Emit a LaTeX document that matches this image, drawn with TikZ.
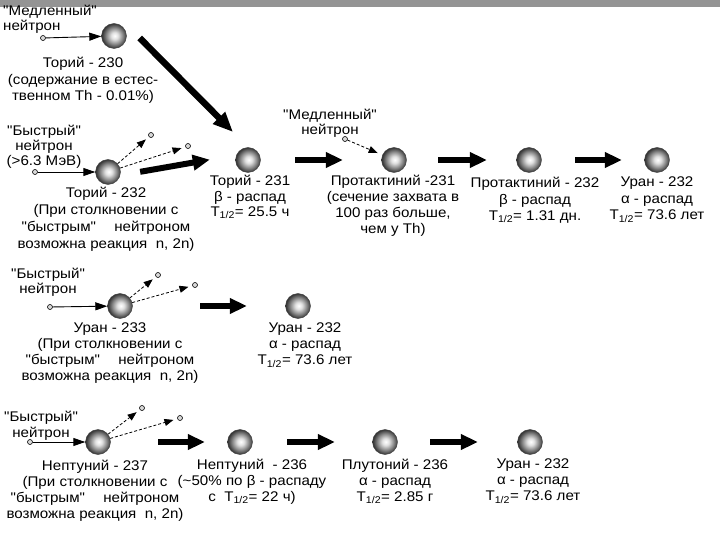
\documentclass[tikz,border=0pt]{standalone}
\usepackage{fontspec}
\newfontfamily\mainf[FakeStretch=1.08]{Liberation Sans}
\usetikzlibrary{arrows.meta}
\pgfdeclareradialshading{sphere}{\pgfpoint{1.5bp}{0.5bp}}{color(0bp)=(white); color(7bp)=(black!12); color(16bp)=(black!45); color(25bp)=(black!80); color(50bp)=(black!80)}
\tikzset{
  ball/.style={circle, minimum size=25pt, inner sep=0pt, shading=sphere, draw=black!75, line width=0.4pt},
  neut/.style={circle, minimum size=5pt, inner sep=0pt, draw=black, fill=black!15, line width=0.6pt},
  lbl/.style={anchor=north, align=center, inner sep=0pt},
  fat/.style={line width=6pt, -{Triangle[length=17pt,width=15pt]}},
  inarr/.style={line width=0.9pt, -{Triangle[length=12pt,width=8pt]}},
  outarr/.style={line width=0.8pt, densely dashed, -{Triangle[length=9pt,width=7pt]}, shorten >=4pt},
  tight/.style={font=\mainf\fontsize{14}{15}\selectfont},
  sp16/.style={font=\mainf\fontsize{14}{16}\selectfont},
}
\newcommand{\thalf}{T\textsubscript{1/2}}
\begin{document}
\begin{tikzpicture}[x=1pt, y=-1pt, font=\mainf\fontsize{14}{16.5}\selectfont]
\useasboundingbox (0,0) rectangle (720,540);
\fill[black!42] (0,0) rectangle (720,7);

% ---------- row 0 ----------
\node[lbl, tight, anchor=north west, align=left] (slow0) at (3,5) {"Медленный"\\нейтрон};
\node[neut] (nd0) at (43,38) {};
\node[ball] (th230) at (114,36) {};
\node[lbl] (lth230) at (83,57) {Торий - 230\\(содержание в естес-\\твенном Th - 0.01\%)};

% ---------- row 1 ----------
\node[lbl, tight] (fast1) at (44,125) {"Быстрый"\\нейтрон\\(>6.3 МэВ)};
\node[neut] (nd1) at (35,172) {};
\node[ball] (th232) at (108,172) {};
\node[neut] (d1a) at (151,135) {};
\node[neut] (d1b) at (188,146) {};
\node[lbl, font=\mainf\fontsize{14}{17}\selectfont] (lth232) at (106,187) {Торий - 232\\(При столкновении с\\"быстрым"\hspace{1.3em}нейтроном\\возможна реакция\ \ n, 2n)};

\node[ball] (th231) at (248,160) {};
\node[lbl, font=\mainf\fontsize{14}{15.5}\selectfont] (lth231) at (250,175) {Торий - 231\\β - распад\\\thalf= 25.5 ч};

\node[lbl, tight] (slow1) at (330,109) {"Медленный"\\нейтрон};
\node[neut] (nd1s) at (345,139) {};
\node[ball] (pa231) at (394,160) {};
\node[lbl, sp16] (lpa231) at (393,175) {Протактиний -231\\(сечение захвата в\\100 раз больше,\\чем у Th)};

\node[ball] (pa232) at (529,160) {};
\node[lbl] (lpa232) at (535,177) {Протактиний - 232\\β - распад\\\thalf= 1.31 дн.};

\node[ball] (u232a) at (657,160) {};
\node[lbl] (lu232a) at (657,177) {Уран - 232\\α - распад\\\thalf= 73.6 лет};

% ---------- row 2 ----------
\node[lbl, tight] (fast2) at (48,268) {"Быстрый"\\нейтрон};
\node[neut] (nd2) at (50,307) {};
\node[ball] (u233) at (120,306) {};
\node[neut] (d2a) at (158,275) {};
\node[neut] (d2b) at (195,285) {};
\node[lbl, sp16] (lu233) at (110,323) {Уран - 233\\(При столкновении с\\"быстрым"\hspace{1.3em}нейтроном\\возможна реакция\ \ n, 2n)};

\node[ball] (u232b) at (298,306) {};
\node[lbl, sp16] (lu232b) at (305,323) {Уран - 232\\α - распад\\\thalf= 73.6 лет};

% ---------- row 3 ----------
\node[lbl, sp16] (fast3) at (41,411) {"Быстрый"\\нейтрон};
\node[neut] (nd3) at (30,442) {};
\node[ball] (np237) at (98,442) {};
\node[neut] (d3a) at (142,408) {};
\node[neut] (d3b) at (180,418) {};
\node[lbl, sp16] (lnp237) at (95,460) {Нептуний - 237\\(При столкновении с\\"быстрым"\hspace{1.3em}нейтроном\\возможна реакция\ \ n, 2n)};

\node[ball] (np236) at (240,442) {};
\node[lbl, sp16] (lnp236) at (252,459) {Нептуний\ \ - 236\\(\textasciitilde50\% по β - распаду\\с\ \ \thalf= 22 ч)};

\node[ball] (pu236) at (385,442) {};
\node[lbl, sp16] (lpu236) at (395,459) {Плутоний - 236\\α - распад\\\thalf= 2.85 г};

\node[ball] (u232c) at (530,442) {};
\node[lbl, sp16] (lu232c) at (533,459) {Уран - 232\\α - распад\\\thalf= 73.6 лет};

% ---------- connectors ----------
\draw[inarr] (nd0) -- (th230);
\draw[line width=6.5pt, -{Triangle[length=20pt,width=16pt]}] ([shift={(13,2)}]th230.east) -- ([shift={(-6,-19)}]th231.north west);

\draw[inarr] (nd1) -- (th232);
\draw[outarr] (th232) -- (d1a);
\draw[outarr] (th232) -- (d1b);
\draw[fat, shorten <=20.2pt, shorten >=25.9pt] (th232.-15) -- ([yshift=4.8pt]th231.west);
\draw[fat, shorten <=34.5pt, shorten >=38.5pt] (th231) -- (pa231);
\draw[outarr, shorten >=5pt] (nd1s) -- (pa231);
\draw[fat, shorten <=31.5pt, shorten >=29.5pt] (pa231) -- (pa232);
\draw[fat, shorten <=33.5pt, shorten >=22.5pt] (pa232) -- (u232a);

\draw[inarr] (nd2) -- (u233);
\draw[outarr] (u233) -- (d2a);
\draw[outarr] (u233) -- (d2b);
\draw[fat, shorten <=67.5pt, shorten >=38.5pt] (u233) -- (u232b);

\draw[inarr] (nd3) -- (np237);
\draw[outarr] (np237) -- (d3a);
\draw[outarr] (np237) -- (d3b);
\draw[fat, shorten <=47.5pt, shorten >=22.5pt] (np237) -- (np236);
\draw[fat, shorten <=34.5pt, shorten >=37.5pt] (np236) -- (pu236);
\draw[fat, shorten <=32.5pt, shorten >=39.5pt] (pu236) -- (u232c);
\end{tikzpicture}
\end{document}
